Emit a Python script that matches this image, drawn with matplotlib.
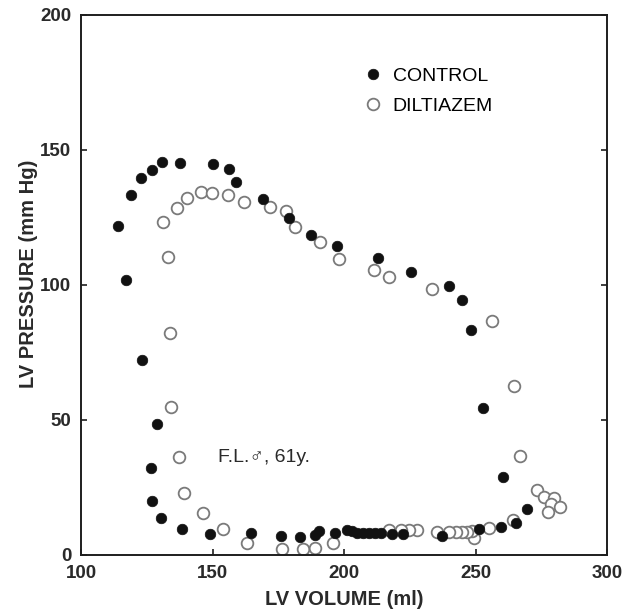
import matplotlib
matplotlib.use('Agg')
import matplotlib.pyplot as plt

# LV pressure-volume points
control_vol = [114.2, 117.0, 118.9, 122.9, 126.9, 130.8, 137.7, 150.1, 156.1, 159.0,
               169.1, 178.9, 187.3, 197.3, 212.9, 225.3, 240.0, 244.8, 248.1, 252.9,
               260.4, 269.4, 265.4, 259.5, 251.4, 237.4, 222.6, 218.4, 214.1, 211.8,
               209.5, 207.2, 204.9, 203.1, 201.2, 196.4, 190.4, 188.8, 183.3, 175.9,
               164.7, 149.1, 138.4, 130.6, 127.1, 126.5, 128.8, 123.0]
control_prs = [121.8, 102.0, 133.2, 139.8, 142.7, 145.6, 145.2, 144.8, 142.8, 138.1,
               132.0, 124.9, 118.6, 114.3, 110.1, 104.9, 99.6, 94.4, 83.2, 54.6,
               28.8, 17.0, 11.7, 10.2, 9.6, 6.9, 7.7, 7.7, 8.1, 8.1,
               8.1, 8.1, 8.3, 8.9, 9.4, 8.1, 9.0, 7.4, 6.8, 7.1,
               8.1, 7.7, 9.5, 13.6, 19.9, 32.2, 48.7, 72.1]

dilt_vol = [131.2, 133.1, 133.8, 134.3, 137.2, 139.0, 146.4, 154.0, 163.2, 176.4,
            184.3, 188.8, 195.7, 136.5, 140.2, 145.6, 149.9, 155.7, 162.1, 172.0,
            177.9, 181.3, 190.9, 198.1, 211.4, 217.0, 233.3, 256.3, 264.5, 267.1,
            273.2, 276.0, 279.8, 278.6, 282.2, 277.6, 264.1, 255.0, 249.4, 248.7,
            246.9, 245.0, 242.4, 239.9, 235.5, 227.9, 224.7, 221.6, 217.2]
dilt_prs = [123.2, 110.4, 82.1, 54.8, 36.3, 23.0, 15.6, 9.5, 4.3, 2.3,
            2.2, 2.7, 4.4, 128.4, 132.2, 134.3, 133.9, 133.5, 130.8, 128.8,
            127.5, 121.4, 115.9, 109.5, 105.5, 102.9, 98.4, 86.7, 62.7, 36.6,
            24.2, 21.6, 21.1, 19.0, 17.7, 16.0, 13.0, 10.1, 6.2, 9.0,
            8.4, 8.4, 8.4, 8.4, 8.6, 9.3, 9.3, 9.3, 9.3]

x_ticks = [100, 150, 200, 250, 300]
y_ticks = [0, 50, 100, 150, 200]

plt.rcParams['font.family'] = ['Liberation Sans', 'DejaVu Sans']
ink = '#1e1e1e'
txt = '#2a2a2a'

fig = plt.figure(figsize=(6.28, 6.14), dpi=100)
ax = fig.add_axes([0.1290, 0.0961, 0.8376, 0.8795])

ax.plot(dilt_vol, dilt_prs, 'o', ms=8.4, mfc='white', mec='#7a7a7a', mew=1.3,
        ls='none', label='DILTIAZEM', zorder=2)
ax.plot(control_vol, control_prs, 'o', ms=7.6, mfc='#111111', mec='#111111', mew=0.5,
        ls='none', label='CONTROL', zorder=3)

ax.set_xlim(100, 300)
ax.set_ylim(0, 200)
ax.set_xticks(x_ticks)
ax.set_yticks(y_ticks)
ax.tick_params(direction='in', length=4, width=1.2, colors=ink, labelsize=13.5,
               right=True, pad=7)
for lab in ax.get_xticklabels() + ax.get_yticklabels():
    lab.set_fontweight('bold')
    lab.set_color(txt)
for sp in ax.spines.values():
    sp.set_linewidth(1.4)
    sp.set_color(ink)

ax.set_xlabel('LV VOLUME (ml)', fontsize=14.5, fontweight='bold', color=txt,
              labelpad=6)
ax.set_ylabel('LV PRESSURE (mm Hg)', fontsize=14.5, fontweight='bold', color=txt)
ax.yaxis.set_label_coords(-0.082, 0.52)

handles, labels = ax.get_legend_handles_labels()
ax.legend(handles[::-1], labels[::-1], loc='upper left', bbox_to_anchor=(0.522, 0.917),
          frameon=False, fontsize=14, handletextpad=0.5, labelspacing=0.62,
          markerscale=1.0, handlelength=1.0, borderaxespad=0)

ax.text(0.26, 0.18, 'F.L.\u2642, 61y.', transform=ax.transAxes, fontsize=14,
        color=txt, ha='left', va='center')

fig.savefig('out.png', dpi=100)
